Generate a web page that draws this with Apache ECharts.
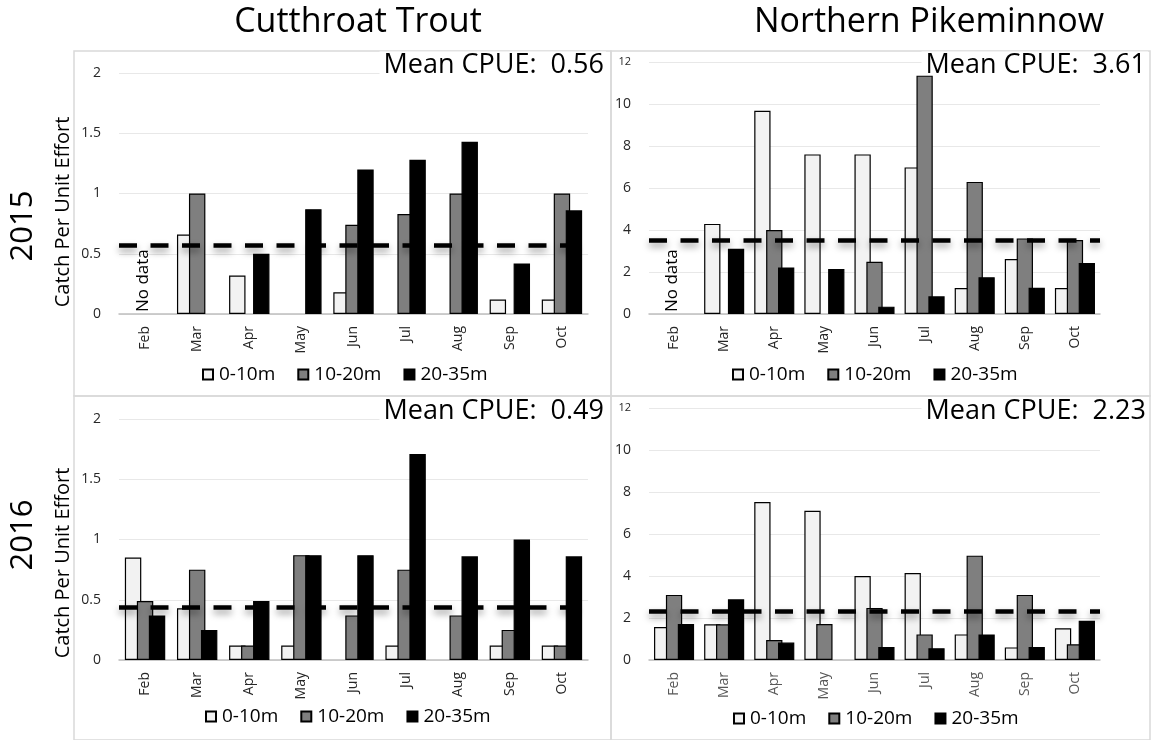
<!DOCTYPE html>
<html>
<head>
<meta charset="utf-8">
<script src="https://cdn.jsdelivr.net/npm/echarts@6/dist/echarts.min.js"></script>
<style>
  html, body { margin: 0; padding: 0; background: #fff; }
  #chart { width: 1151px; height: 740px; }
</style>
</head>
<body>
<div id="chart"></div>
<script>
// ---------------- DATA ----------------
const months = ['Feb', 'Mar', 'Apr', 'May', 'Jun', 'Jul', 'Aug', 'Sep', 'Oct'];
const depthNames = ['0-10m', '10-20m', '20-35m'];
const speciesTitles = ['Cutthroat Trout', 'Northern Pikeminnow'];
const yearLabels = ['2015', '2016'];
const yAxisTitle = 'Catch Per Unit Effort';
const noDataText = 'No data';

// Cutthroat Trout 2015 (Feb: no data)
const ct2015_0_10 = [null, 0.66, 0.32, 0, 0.18, 0, 0, 0.12, 0.12];
const ct2015_10_20 = [null, 1.0, 0, 0, 0.74, 0.83, 1.0, 0, 1.0];
const ct2015_20_35 = [null, 0, 0.5, 0.87, 1.2, 1.28, 1.43, 0.42, 0.86];
// Northern Pikeminnow 2015 (Feb: no data)
const np2015_0_10 = [null, 4.29, 9.68, 7.6, 7.6, 6.98, 1.24, 2.62, 1.24];
const np2015_10_20 = [null, 0, 4.0, 0, 2.49, 11.35, 6.29, 3.6, 3.52];
const np2015_20_35 = [null, 3.11, 2.22, 2.14, 0.35, 0.84, 1.75, 1.25, 2.43];
// Cutthroat Trout 2016
const ct2016_0_10 = [0.85, 0.43, 0.12, 0.12, 0, 0.12, 0, 0.12, 0.12];
const ct2016_10_20 = [0.49, 0.75, 0.12, 0.87, 0.37, 0.75, 0.37, 0.25, 0.12];
const ct2016_20_35 = [0.37, 0.25, 0.49, 0.87, 0.87, 1.71, 0.86, 1.0, 0.86];
// Northern Pikeminnow 2016
const np2016_0_10 = [1.57, 1.7, 7.52, 7.11, 4.0, 4.14, 1.22, 0.6, 1.51];
const np2016_10_20 = [3.1, 1.7, 0.95, 1.71, 2.48, 1.22, 4.97, 3.1, 0.75];
const np2016_20_35 = [1.71, 2.89, 0.83, 0, 0.62, 0.56, 1.22, 0.62, 1.87];

// mean CPUE (label text) and position of the dashed mean line
const meanLabels = ['0.56', '3.61', '0.49', '2.23'];
const meanLineValues = [0.575, 3.5, 0.44, 2.33];

// y axis ticks
const ctTicks = { max: 2, interval: 0.5 };
const npTicks = { max: 12, interval: 2 };

// ---------------- LAYOUT / STYLE ----------------
const FONT = 'Open Sans';
const depthColors = ['#f2f2f2', '#7f7f7f', '#000000'];

const panels = [
  { values: [ct2015_0_10, ct2015_10_20, ct2015_20_35], ticks: ctTicks, grid: { left: 119, top: 73, width: 469, height: 241 }, box: [74, 51, 537, 345], legendLeft: 197, legendTop: 360, meanX: 606, meanY: 65, noData: true, barWidth: '31.5%', labelColor: '#262626' },
  { values: [np2015_0_10, np2015_10_20, np2015_20_35], ticks: npTicks, grid: { left: 649, top: 62, width: 451, height: 252 }, box: [611, 51, 539, 345], legendLeft: 727, legendTop: 360, meanX: 1148, meanY: 65, noData: true, barWidth: '32.5%', labelColor: '#262626' },
  { values: [ct2016_0_10, ct2016_10_20, ct2016_20_35], ticks: ctTicks, grid: { left: 119, top: 419, width: 469, height: 241 }, box: [74, 396, 537, 344], legendLeft: 200, legendTop: 702, meanX: 606, meanY: 411, noData: false, barWidth: '31.5%', labelColor: '#262626' },
  { values: [np2016_0_10, np2016_10_20, np2016_20_35], ticks: npTicks, grid: { left: 649, top: 408, width: 451, height: 252 }, box: [611, 396, 539, 344], legendLeft: 728, legendTop: 704, meanX: 1148, meanY: 411, noData: false, barWidth: '32.5%', labelColor: '#595959' }
];

const grids = [], xAxes = [], yAxes = [], series = [], legends = [], graphics = [];

panels.forEach((p, i) => {
  grids.push(Object.assign({ containLabel: false }, p.grid));
  xAxes.push({
    type: 'category', gridIndex: i, data: months,
    axisTick: { show: false },
    axisLine: { lineStyle: { color: '#bfbfbf', width: 1.5 } },
    axisLabel: { rotate: 90, fontSize: 14, color: p.labelColor, fontFamily: FONT, margin: 12, interval: 0 }
  });
  yAxes.push({
    type: 'value', gridIndex: i, min: 0, max: p.ticks.max, interval: p.ticks.interval,
    axisLine: { show: false }, axisTick: { show: false },
    splitLine: { lineStyle: { color: '#e8e8e8', width: 1 } },
    axisLabel: {
      fontSize: 14, color: '#262626', fontFamily: FONT, margin: 18,
      formatter: v => (v === 12 ? '{s|12}' : String(v)),
      rich: { s: { fontSize: 11, fontFamily: FONT, color: '#262626' } }
    }
  });
  p.values.forEach((vals, k) => {
    const s = {
      type: 'bar', name: depthNames[k], xAxisIndex: i, yAxisIndex: i,
      data: vals.map(v => (v === 0 ? null : v)),
      barWidth: p.barWidth, barGap: '-27%',
      z: 3,
      itemStyle: { color: depthColors[k], borderColor: '#000', borderWidth: 1.2 },
      emphasis: { disabled: true },
      animation: false
    };
    if (k === 0 && p.noData) {
      s.markPoint = {
        symbol: 'circle', symbolSize: 0, silent: true,
        data: [{ coord: [months[0], 0] }],
        label: {
          show: true, formatter: noDataText, rotate: 90, position: 'inside',
          align: 'left', verticalAlign: 'middle', offset: [2, 10],
          fontSize: 17, color: '#000', fontFamily: FONT
        }
      };
    }
    if (k === 2) {
      s.markLine = {
        silent: true, symbol: 'none', animation: false,
        label: { show: false },
        lineStyle: {
          color: '#000', width: 4.5, type: [18, 13.5],
          shadowBlur: 7, shadowColor: 'rgba(0,0,0,0.4)', shadowOffsetY: 4
        },
        data: [{ yAxis: meanLineValues[i] }]
      };
    }
    series.push(s);
  });
  legends.push({
    data: depthNames, left: p.legendLeft, top: p.legendTop,
    icon: 'rect', itemWidth: 10, itemHeight: 10, itemGap: 22,
    selectedMode: false,
    textStyle: { fontSize: 19, color: '#000', fontFamily: FONT, padding: [0, 0, 0, 1] }
  });
  graphics.push({
    type: 'rect', silent: true, z: -10,
    shape: { x: p.box[0], y: p.box[1], width: p.box[2], height: p.box[3] },
    style: { fill: 'none', stroke: '#d9d9d9', lineWidth: 1.5 }
  });
  graphics.push({
    type: 'text', silent: true, x: p.meanX, y: p.meanY, z: 1,
    style: {
      text: 'Mean CPUE:  ' + meanLabels[i], fontSize: 27, fontFamily: FONT, fill: '#000',
      align: 'right', verticalAlign: 'middle', backgroundColor: '#ffffff', padding: [0, 2, 0, 4]
    }
  });
});

// species titles
[[358, 22], [929, 22]].forEach((pos, j) => {
  graphics.push({
    type: 'text', silent: true, x: pos[0], y: pos[1],
    style: { text: speciesTitles[j], fontSize: 34, fontFamily: FONT, fill: '#000', align: 'center', verticalAlign: 'middle' }
  });
});
// year labels and y axis titles
[[226, 212], [535, 563]].forEach((ys, j) => {
  graphics.push({
    type: 'text', silent: true, x: 23, y: ys[0], rotation: Math.PI / 2,
    style: { text: yearLabels[j], fontSize: 31, fontFamily: FONT, fill: '#000', align: 'center', verticalAlign: 'middle' }
  });
  graphics.push({
    type: 'text', silent: true, x: 63, y: ys[1], rotation: Math.PI / 2,
    style: { text: yAxisTitle, fontSize: 20, fontFamily: FONT, fill: '#000', align: 'center', verticalAlign: 'middle' }
  });
});

const chart = echarts.init(document.getElementById('chart'), null, { renderer: 'canvas' });
chart.setOption({
  backgroundColor: '#ffffff',
  animation: false,
  grid: grids,
  xAxis: xAxes,
  yAxis: yAxes,
  legend: legends,
  series: series,
  graphic: graphics
});
</script>
</body>
</html>
